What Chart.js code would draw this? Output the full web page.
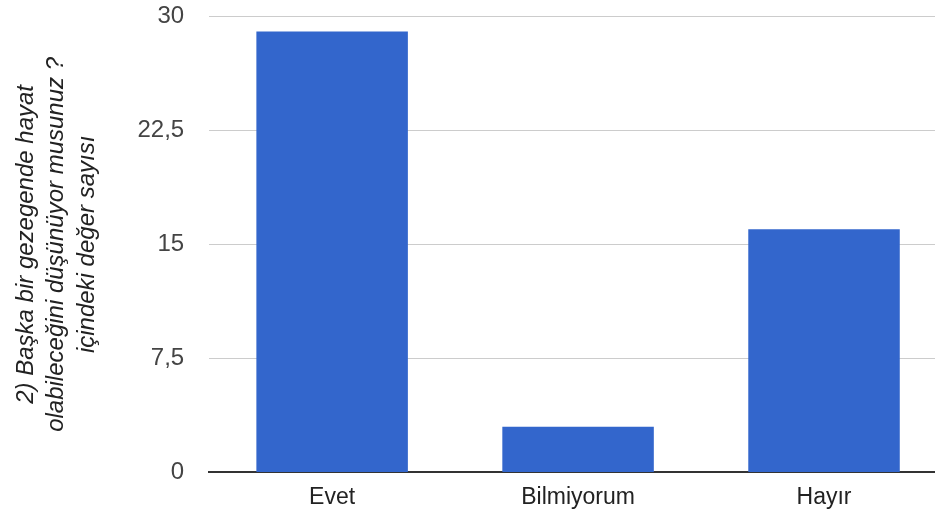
<!DOCTYPE html>
<html>
<head>
<meta charset="utf-8">
<script src="https://cdn.jsdelivr.net/npm/chart.js@4/dist/chart.umd.min.js"></script>
<style>
  html, body { margin: 0; padding: 0; background: #fff; overflow: hidden; }
  /* plot runs slightly past the right edge like the original */
  #wrap { width: 947px; height: 513px; }
</style>
</head>
<body>
<div id="wrap"><canvas id="paramChart"></canvas></div>
<script>
var categories = ['Evet', 'Bilmiyorum', 'Hayır'];
var counts = [29, 3, 16];
var yTitle = ['2) Başka bir gezegende hayat', 'olabileceğini düşünüyor musunuz ?', 'içindeki değer sayısı'];
var yMin = 0, yMax = 30, yStep = 7.5;

var fam = "'Liberation Sans', Arial, sans-serif";
var ctx = document.getElementById('paramChart');

var barGraph = new Chart(ctx, {
  type: 'bar',
  data: {
    labels: categories,
    datasets: [{
      label: 'Sayı',
      backgroundColor: '#3366cc',
      borderWidth: 0,
      data: counts,
      barPercentage: 0.616,
      categoryPercentage: 1
    }]
  },
  options: {
    responsive: true,
    maintainAspectRatio: false,
    animation: false,
    layout: { padding: { top: 0, right: 0, bottom: -9, left: 0 } },
    plugins: {
      legend: { display: false },
      tooltip: { enabled: false }
    },
    scales: {
      x: {
        grid: { display: false, drawTicks: false },
        border: { display: true, color: '#333', width: 2 },
        ticks: {
          color: '#222',
          padding: 11,
          font: { family: fam, size: 23 }
        }
      },
      y: {
        min: yMin,
        max: yMax,
        grid: { color: '#cccccc', drawTicks: true, tickLength: 23, tickColor: 'rgba(0,0,0,0)' },
        border: { display: false },
        ticks: {
          stepSize: yStep,
          color: '#444',
          padding: 2,
          font: { family: fam, size: 24 },
          callback: function(value) { return String(value).replace('.', ','); }
        },
        title: {
          display: true,
          text: yTitle,
          color: '#222',
          padding: { top: 11, bottom: 33 },
          font: { family: fam, size: 24, style: 'italic', lineHeight: 1.27 }
        }
      }
    }
  }
});
</script>
</body>
</html>
